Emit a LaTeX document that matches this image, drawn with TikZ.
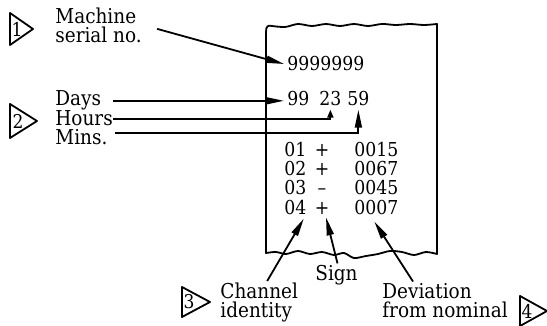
\documentclass[tikz,border=0pt]{standalone}
\usepackage{fontspec}
\setmainfont{DejaVu Serif Condensed}
\usetikzlibrary{arrows.meta}
\tikzset{
  lbl/.style={inner sep=0pt, anchor=base west, font=\fontsize{10.25}{9.5}\selectfont},
  lbl2/.style={lbl, align=left},
  fig/.style={inner sep=1.5pt, anchor=base west, font=\fontsize{9.6}{9.5}\selectfont},
  num/.style={inner sep=0pt, font=\fontsize{9.5}{10}\selectfont},
  arr/.style={line width=0.9pt, -{Triangle[length=9pt,width=3.5pt]}},
  arrs/.style={line width=0.9pt, -{Triangle[length=4pt,width=3pt]}},
  tri/.style={line width=0.9pt, line join=round},
  paper/.style={line width=0.9pt, line join=round},
}
\begin{document}
\begin{tikzpicture}[x=0.5pt,y=-0.5pt]
  \useasboundingbox (0,0) rectangle (547,326);

  % Numbered markers
  \draw[tri] (10,13) -- (33,29) -- (10,45) -- cycle;
  \node[num] (n1) at (17,29) {1};
  \draw[tri] (10,104) -- (37,121) -- (10,138) -- cycle;
  \node[num] (n2) at (18,121) {2};
  \draw[tri] (182,287) -- (210,302) -- (182,317) -- cycle;
  \node[num] (n3) at (189,302) {3};
  \draw[tri] (520,296) -- (547,311) -- (520,326) -- cycle;
  \node[num] (n4) at (527,311) {4};

  % Printout strip
  \draw[paper] (266,252) -- (266,32) .. controls (266,26) and (268,25) .. (272,26)
    -- plot[smooth] coordinates {(272,26) (285,27) (298,24) (312,26) (326,24) (340,26)
      (354,24) (368,26) (382,24) (396,25) (410,24) (424,25) (437,24)}
    -- (437,254)
    -- plot[smooth] coordinates {(437,254) (426,252) (414,255) (402,252) (390,251)
      (378,254) (366,256) (354,258) (344,253) (334,255) (322,252) (310,254)
      (298,251) (286,254) (276,252) (266,253)}
    -- cycle;

  % Printed figures
  \node[fig] (ser) at (284,71) {9999999};
  \node[fig] (d99) at (284,106) {99};
  \node[fig] (d23) at (316,106) {23};
  \node[fig] (d59) at (344,106) {59};

  \node[fig] (c1) at (281,157) {01};
  \node[fig] (c2) at (281,176) {02};
  \node[fig] (c3) at (281,195) {03};
  \node[fig] (c4) at (281,214) {04};
  \node[fig, anchor=base] (p1) at (322,157) {+};
  \node[fig, anchor=base] (p2) at (322,176) {+};
  \node[fig, anchor=base] (p3) at (322,195) {–};
  \node[fig, anchor=base] (p4) at (322,214) {+};
  \node[fig] (v1) at (351,157) {0015};
  \node[fig] (v2) at (351,176) {0067};
  \node[fig] (v3) at (351,195) {0045};
  \node[fig] (v4) at (351,214) {0007};

  % Labels (base is the last line)
  \node[lbl2] (mach) at (55,43) {Machine\\serial no.};
  \node[lbl] (days) at (55,106) {Days};
  \node[lbl] (hours) at (55,126) {Hours};
  \node[lbl] (mins) at (55,145) {Mins.};
  \node[lbl2] (chan) at (220,318) {Channel\\identity};
  \node[lbl] (sign) at (315,280) {Sign};
  \node[lbl2] (dev) at (382,318) {Deviation\\from nominal};

  % Pointers
  \draw[arr] ([shift={(15,3)}]mach.east) -- (ser.west);
  \draw[arr] ([xshift=6pt]days.east) -- (days.east -| d99.west);
  \draw[arrs] (hours.east) -| (d23.south);
  \draw[arr] ([shift={(7,-5)}]mins.east) -| (d59.south);
  \draw[arr] ([shift={(8,-2)}]chan.north) -- ([shift={(-6,1)}]c4.south east);
  \draw[arr] ([shift={(1,-1)}]sign.north) -- ([shift={(4,0)}]p4.south);
  \draw[arr] ([shift={(31,-2)}]dev.north west) -- ([shift={(-2,4)}]v4.south);
\end{tikzpicture}
\end{document}
